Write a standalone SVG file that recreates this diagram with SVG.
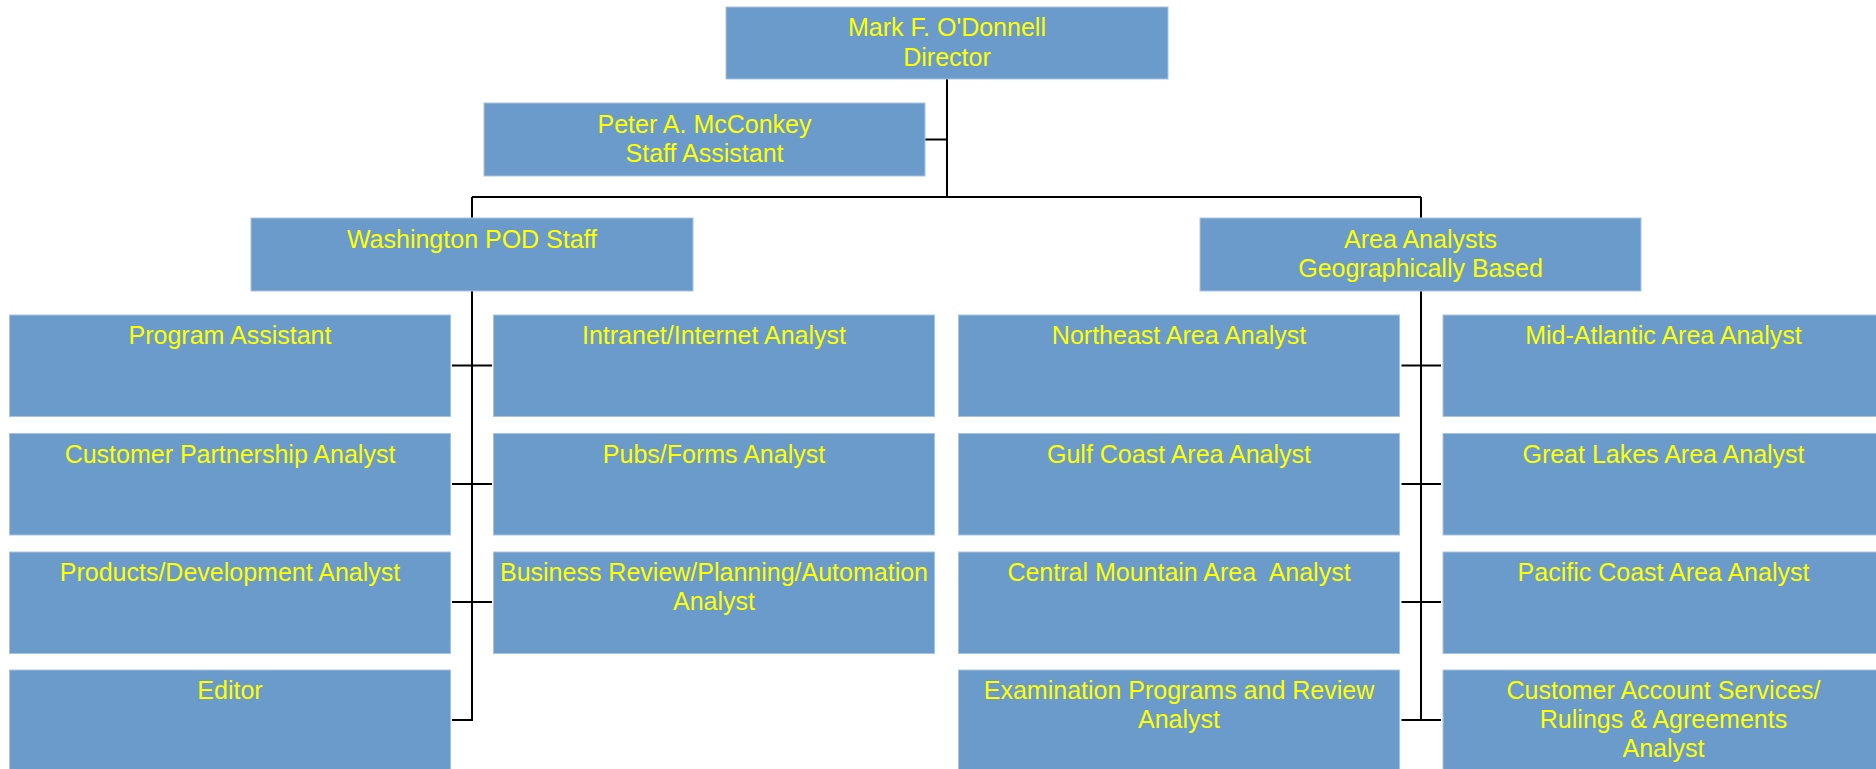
<svg xmlns="http://www.w3.org/2000/svg" width="1876" height="769" viewBox="0 0 1876 769">
<style>
.box{fill:#6A9BCB;stroke:#A7C3E2;stroke-width:1}
.t{font-family:"Liberation Sans",Arial,sans-serif;font-size:25px;fill:#FFFF00;text-anchor:middle;white-space:pre}
.c{stroke:#000;stroke-width:2;fill:none}
</style>
<rect width="1876" height="769" fill="#fff"/>
<g id="connectors">
<path class="c" d="M947 79V197M925 139.5H947M472 197H1421M472 197V720H452M1421 197V720"/>
<path class="c" d="M452 365.5H492M452 484H492M452 602H492"/>
<path class="c" d="M1401.5 365.5H1441M1401.5 484H1441M1401.5 602H1441M1401.5 720H1441"/>
</g>
<g id="director"><rect class="box" x="726" y="7" width="442" height="72"/><text class="t" x="947" y="36">Mark F. O'Donnell</text><text class="t" x="947" y="65.5">Director</text></g>
<g id="staff-assistant"><rect class="box" x="484" y="103" width="441" height="73"/><text class="t" x="704.5" y="132.5">Peter A. McConkey</text><text class="t" x="704.5" y="162">Staff Assistant</text></g>
<g id="washington"><rect class="box" x="251" y="218" width="442" height="73"/><text class="t" x="472" y="247.5">Washington POD Staff</text></g>
<g id="area"><rect class="box" x="1200" y="218" width="441" height="73"/><text class="t" x="1420.5" y="247.5">Area Analysts</text><text class="t" x="1420.5" y="277">Geographically Based</text></g>
<g id="program-assistant"><rect class="box" x="9.5" y="315" width="441" height="101.5"/><text class="t" x="230" y="344">Program Assistant</text></g>
<g id="customer-partnership"><rect class="box" x="9.5" y="433.5" width="441" height="101.5"/><text class="t" x="230" y="462.5">Customer Partnership Analyst</text></g>
<g id="products-development"><rect class="box" x="9.5" y="552" width="441" height="101.5"/><text class="t" x="230" y="581">Products/Development Analyst</text></g>
<g id="editor"><rect class="box" x="9.5" y="670" width="441" height="101.5"/><text class="t" x="230" y="699">Editor</text></g>
<g id="intranet"><rect class="box" x="493.5" y="315" width="441" height="101.5"/><text class="t" x="714" y="344">Intranet/Internet Analyst</text></g>
<g id="pubs-forms"><rect class="box" x="493.5" y="433.5" width="441" height="101.5"/><text class="t" x="714" y="462.5">Pubs/Forms Analyst</text></g>
<g id="business-review"><rect class="box" x="493.5" y="552" width="441" height="101.5"/><text class="t" x="714" y="581">Business Review/Planning/Automation</text><text class="t" x="714" y="610">Analyst</text></g>
<g id="northeast"><rect class="box" x="958.5" y="315" width="441" height="101.5"/><text class="t" x="1179" y="344">Northeast Area Analyst</text></g>
<g id="gulf-coast"><rect class="box" x="958.5" y="433.5" width="441" height="101.5"/><text class="t" x="1179" y="462.5">Gulf Coast Area Analyst</text></g>
<g id="central-mountain"><rect class="box" x="958.5" y="552" width="441" height="101.5"/><text class="t" x="1179" y="581">Central Mountain Area  Analyst</text></g>
<g id="examination"><rect class="box" x="958.5" y="670" width="441" height="101.5"/><text class="t" x="1179" y="699">Examination Programs and Review</text><text class="t" x="1179" y="728">Analyst</text></g>
<g id="mid-atlantic"><rect class="box" x="1443" y="315" width="441" height="101.5"/><text class="t" x="1663.5" y="344">Mid-Atlantic Area Analyst</text></g>
<g id="great-lakes"><rect class="box" x="1443" y="433.5" width="441" height="101.5"/><text class="t" x="1663.5" y="462.5">Great Lakes Area Analyst</text></g>
<g id="pacific-coast"><rect class="box" x="1443" y="552" width="441" height="101.5"/><text class="t" x="1663.5" y="581">Pacific Coast Area Analyst</text></g>
<g id="customer-account"><rect class="box" x="1443" y="670" width="441" height="101.5"/><text class="t" x="1663.5" y="698.5">Customer Account Services/</text><text class="t" x="1663.5" y="727.5">Rulings &amp; Agreements</text><text class="t" x="1663.5" y="756.5">Analyst</text></g>
</svg>
